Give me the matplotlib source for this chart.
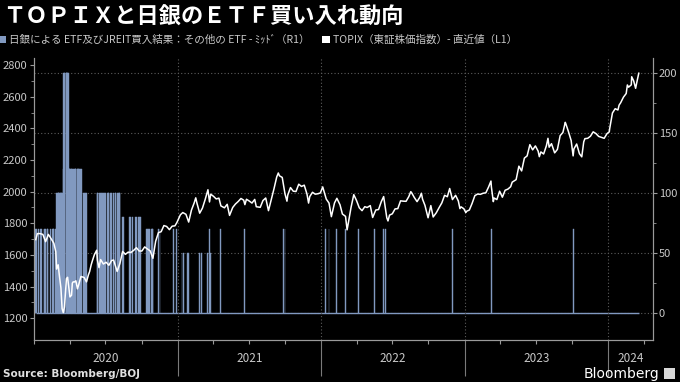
import numpy as np
import pandas as pd
import matplotlib
matplotlib.use('Agg')
import matplotlib.pyplot as plt
import matplotlib.dates as mdates
from matplotlib.patches import Patch, Rectangle
from matplotlib.transforms import blended_transform_factory

plt.rcParams['font.family'] = ['Noto Sans CJK JP', 'DejaVu Sans']

# TOPIX (left axis)
topix_dates = [
    '2020-01-06', '2020-01-10', '2020-01-17', '2020-01-24', '2020-01-31', '2020-02-07', '2020-02-14',
    '2020-02-21', '2020-02-26', '2020-02-28', '2020-03-03', '2020-03-06', '2020-03-10', '2020-03-13',
    '2020-03-16', '2020-03-19', '2020-03-24', '2020-03-27', '2020-03-30', '2020-04-02', '2020-04-06',
    '2020-04-08', '2020-04-10', '2020-04-14', '2020-04-17', '2020-04-21', '2020-04-24', '2020-04-30',
    '2020-05-08', '2020-05-14', '2020-05-19', '2020-05-22', '2020-05-26', '2020-05-29', '2020-06-03',
    '2020-06-09', '2020-06-11', '2020-06-15', '2020-06-19', '2020-06-26', '2020-07-03', '2020-07-10',
    '2020-07-17', '2020-07-22', '2020-07-31', '2020-08-07', '2020-08-14', '2020-08-21', '2020-08-28',
    '2020-09-04', '2020-09-11', '2020-09-18', '2020-09-25', '2020-10-02', '2020-10-09', '2020-10-16',
    '2020-10-23', '2020-10-30', '2020-11-06', '2020-11-13', '2020-11-20', '2020-11-27', '2020-12-04',
    '2020-12-11', '2020-12-18', '2020-12-25', '2020-12-30',
    '2021-01-08', '2021-01-14', '2021-01-22', '2021-01-29', '2021-02-05', '2021-02-12', '2021-02-16',
    '2021-02-19', '2021-02-26', '2021-03-05', '2021-03-12', '2021-03-19', '2021-03-23', '2021-03-26',
    '2021-04-02', '2021-04-09', '2021-04-16', '2021-04-21', '2021-04-30', '2021-05-07', '2021-05-13',
    '2021-05-21', '2021-05-28', '2021-06-04', '2021-06-11', '2021-06-18', '2021-06-21', '2021-06-25',
    '2021-07-02', '2021-07-09', '2021-07-16', '2021-07-20', '2021-07-30', '2021-08-06', '2021-08-13',
    '2021-08-20', '2021-08-27', '2021-09-03', '2021-09-10', '2021-09-14', '2021-09-17', '2021-09-24',
    '2021-10-01', '2021-10-06', '2021-10-08', '2021-10-15', '2021-10-22', '2021-10-29', '2021-11-05',
    '2021-11-12', '2021-11-19', '2021-11-26', '2021-11-30', '2021-12-03', '2021-12-10', '2021-12-17',
    '2021-12-24', '2021-12-30',
    '2022-01-05', '2022-01-14', '2022-01-21', '2022-01-27', '2022-02-04', '2022-02-10', '2022-02-18',
    '2022-02-24', '2022-03-04', '2022-03-08', '2022-03-11', '2022-03-18', '2022-03-25', '2022-04-01',
    '2022-04-08', '2022-04-15', '2022-04-22', '2022-04-28', '2022-05-06', '2022-05-12', '2022-05-20',
    '2022-05-27', '2022-06-03', '2022-06-09', '2022-06-17', '2022-06-20', '2022-06-24', '2022-07-01',
    '2022-07-08', '2022-07-15', '2022-07-22', '2022-07-29', '2022-08-05', '2022-08-12', '2022-08-17',
    '2022-08-19', '2022-08-26', '2022-09-02', '2022-09-09', '2022-09-13', '2022-09-16', '2022-09-22',
    '2022-09-30', '2022-10-07', '2022-10-13', '2022-10-21', '2022-10-28', '2022-11-04', '2022-11-11',
    '2022-11-18', '2022-11-24', '2022-12-01', '2022-12-09', '2022-12-16', '2022-12-20', '2022-12-23',
    '2022-12-30',
    '2023-01-04', '2023-01-06', '2023-01-13', '2023-01-20', '2023-01-27', '2023-02-03', '2023-02-10',
    '2023-02-17', '2023-02-24', '2023-03-03', '2023-03-09', '2023-03-10', '2023-03-15', '2023-03-17',
    '2023-03-24', '2023-03-31', '2023-04-07', '2023-04-14', '2023-04-21', '2023-04-28', '2023-05-02',
    '2023-05-12', '2023-05-19', '2023-05-26', '2023-06-02', '2023-06-09', '2023-06-16', '2023-06-23',
    '2023-06-30', '2023-07-07', '2023-07-10', '2023-07-14', '2023-07-21', '2023-07-28', '2023-08-01',
    '2023-08-04', '2023-08-10', '2023-08-18', '2023-08-25', '2023-09-01', '2023-09-08', '2023-09-14',
    '2023-09-15', '2023-09-22', '2023-09-29', '2023-10-04', '2023-10-06', '2023-10-13', '2023-10-20',
    '2023-10-26', '2023-10-31', '2023-11-03', '2023-11-10', '2023-11-17', '2023-11-24', '2023-12-01',
    '2023-12-08', '2023-12-15', '2023-12-22', '2023-12-29',
    '2024-01-04', '2024-01-05', '2024-01-12', '2024-01-19', '2024-01-26', '2024-01-29', '2024-02-02',
    '2024-02-09', '2024-02-16', '2024-02-19', '2024-02-22', '2024-02-29', '2024-03-01', '2024-03-06',
    '2024-03-11', '2024-03-14', '2024-03-19',
]
topix_vals = [
    1697, 1735, 1735, 1730, 1684, 1730, 1703,
    1674, 1620, 1511, 1538, 1471, 1392, 1261,
    1236, 1271, 1450, 1459, 1399, 1335, 1346,
    1422, 1430, 1430, 1437, 1386, 1410, 1464,
    1458, 1430, 1475, 1495, 1538, 1563, 1601,
    1630, 1565, 1520, 1571, 1543, 1554, 1535,
    1565, 1568, 1496, 1546, 1622, 1604, 1618,
    1616, 1629, 1646, 1625, 1625, 1651, 1638,
    1626, 1579, 1687, 1741, 1747, 1786, 1780,
    1760, 1782, 1784, 1805,
    1854, 1868, 1857, 1808, 1883, 1929, 1961,
    1928, 1864, 1896, 1951, 2012, 1935, 1984,
    1971, 1954, 1959, 1910, 1898, 1920, 1850,
    1900, 1922, 1938, 1957, 1946, 1918, 1952,
    1941, 1928, 1951, 1905, 1901, 1944, 1960,
    1880, 1948, 2018, 2093, 2118, 2100, 2090,
    1986, 1940, 1978, 2026, 2003, 2001, 2047,
    2033, 2041, 1984, 1928, 1969, 1996, 1984,
    1987, 1992,
    2030, 1953, 1928, 1842, 1929, 1958, 1917,
    1859, 1844, 1759, 1800, 1900, 1981, 1944,
    1898, 1880, 1905, 1900, 1912, 1837, 1884,
    1887, 1937, 1969, 1835, 1815, 1852, 1860,
    1891, 1893, 1942, 1940, 1939, 1969, 2000,
    1994, 1963, 1937, 1965, 1990, 1952, 1914,
    1835, 1912, 1840, 1867, 1899, 1929, 1977,
    1968, 2020, 1950, 1977, 1941, 1893, 1904,
    1892,
    1868, 1876, 1884, 1926, 1975, 1985, 1983,
    1990, 1993, 2030, 2067, 2031, 1937, 1960,
    1950, 2003, 1965, 2009, 2016, 2031, 2060,
    2076, 2161, 2131, 2212, 2226, 2297, 2264,
    2289, 2256, 2221, 2251, 2238, 2290, 2337,
    2281, 2303, 2245, 2267, 2354, 2374, 2438,
    2432, 2380, 2323, 2226, 2270, 2301, 2240,
    2220, 2315, 2335, 2337, 2350, 2378, 2367,
    2349, 2343, 2337, 2366,
    2378, 2398, 2497, 2524, 2516, 2547, 2562,
    2597, 2620, 2674, 2660, 2675, 2726, 2700,
    2653, 2690, 2748,
]

# BOJ ETF purchases (right axis)
buy_dates = [
    '2020-01-06', '2020-01-09', '2020-01-14', '2020-01-17', '2020-01-20', '2020-01-27', '2020-01-29',
    '2020-01-31', '2020-02-04', '2020-02-06', '2020-02-13', '2020-02-17', '2020-02-19', '2020-02-21',
    '2020-02-25', '2020-02-27',
    '2020-02-28', '2020-03-02', '2020-03-03', '2020-03-04', '2020-03-05', '2020-03-06', '2020-03-09',
    '2020-03-10', '2020-03-11', '2020-03-12', '2020-03-13',
    '2020-03-16',
    '2020-03-17', '2020-03-18', '2020-03-19', '2020-03-23', '2020-03-24', '2020-03-25', '2020-03-26',
    '2020-03-27', '2020-03-30',
    '2020-03-31', '2020-04-01', '2020-04-02', '2020-04-03', '2020-04-06', '2020-04-07', '2020-04-09',
    '2020-04-10', '2020-04-13', '2020-04-15', '2020-04-16', '2020-04-17', '2020-04-20', '2020-04-22',
    '2020-04-23', '2020-04-24', '2020-04-27', '2020-04-30', '2020-05-01',
    '2020-05-07', '2020-05-08', '2020-05-11', '2020-05-13',
    '2020-06-11', '2020-06-12', '2020-06-15', '2020-06-19', '2020-06-22', '2020-06-24', '2020-06-26',
    '2020-06-29', '2020-07-02', '2020-07-06', '2020-07-09', '2020-07-10', '2020-07-14', '2020-07-17',
    '2020-07-21', '2020-07-27', '2020-07-28', '2020-07-31', '2020-08-03', '2020-08-05', '2020-08-07',
    '2020-08-14', '2020-08-17',
    '2020-09-01', '2020-09-04', '2020-09-08', '2020-09-15', '2020-09-17', '2020-09-18', '2020-09-23',
    '2020-09-25', '2020-09-28',
    '2020-10-13', '2020-10-16', '2020-10-19', '2020-10-22', '2020-10-26', '2020-10-28', '2020-10-30',
    '2020-11-13', '2020-11-17', '2020-12-21', '2020-12-28',
    '2021-01-12', '2021-01-15', '2021-01-25', '2021-01-28', '2021-02-25', '2021-03-03', '2021-03-18',
    '2021-03-22', '2021-03-26', '2021-04-21', '2021-06-21', '2021-09-28', '2021-10-01',
    '2022-01-12', '2022-01-21', '2022-02-10', '2022-03-04', '2022-04-05', '2022-05-16', '2022-06-08',
    '2022-06-14', '2022-12-01', '2023-03-10', '2023-10-05',
]
buy_vals = (
    [70.1] * 16 + [100.2] * 11 + [120.4] + [200.4] * 9 + [120.4] * 19 + [100.2] * 4
    + [100.2] * 21 + [80.2] * 2 + [80.2] * 9 + [70.1] * 7 + [70.1] * 4
    + [50.1] * 4 + [50.1, 50.1, 50.1, 70.1, 50.1] + [70.1] * 4
    + [70.1] * 11
)

years = [2020, 2021, 2022, 2023, 2024]

bg = 'black'
bar_color = '#8199c0'
grid_color = '#5c5c5c'
text_color = '#c8c8c8'
spine_color = '#9a9a9a'

t_dates = pd.to_datetime(topix_dates)
b_dates = pd.to_datetime(buy_dates)
x_start = pd.Timestamp('2020-01-01')
x_end = pd.Timestamp('2024-04-23')

fig = plt.figure(figsize=(6.8, 3.82), dpi=100, facecolor=bg)
ax = fig.add_axes([0.0497, 0.110, 0.9099, 0.738])
ax2 = ax.twinx()
ax.set_zorder(ax2.get_zorder() + 1)
ax.patch.set_visible(False)
ax2.set_facecolor(bg)

# bars on the right axis
ax2.hlines(0, b_dates[0], t_dates[-1], color=bar_color, lw=1.0, zorder=2)
ax2.bar(b_dates, buy_vals, width=2.4, color=bar_color, edgecolor=bar_color,
        linewidth=0.3, zorder=3)
ax2.set_ylim(-22.25, 212.75)
ax2.set_yticks([0, 50, 100, 150, 200])
ax2.set_yticks([25, 75, 125, 175], minor=True)
ax2.grid(axis='y', which='major', ls=(0, (1, 2)), color=grid_color, lw=0.8)

# TOPIX line on the left axis
ax.plot(t_dates, topix_vals, color='white', lw=1.1, zorder=4)
ax.set_ylim(1063, 2844)
ax.set_yticks(range(1200, 2801, 200))
ax.set_yticks(range(1300, 2800, 200), minor=True)
ax.set_xlim(x_start, x_end)

ax.set_xticks([pd.Timestamp(f'{y}-01-01') for y in years[1:]])
ax.xaxis.set_minor_locator(mdates.MonthLocator(bymonth=[1, 4, 7, 10]))
ax.set_xticklabels([])
ax.grid(axis='x', which='major', ls=(0, (1, 2)), color=grid_color, lw=0.8)

ax.tick_params(axis='x', which='major', length=26, width=0.8, color='#7a7a7a')
ax.tick_params(axis='x', which='minor', length=3, width=0.8, color=spine_color)
for a in (ax, ax2):
    a.tick_params(axis='y', which='major', length=3, width=0.8, color=spine_color,
                  labelcolor=text_color, labelsize=8, pad=1.5)
    a.tick_params(axis='y', which='minor', length=2, width=0.6, color=spine_color)
    a.spines['top'].set_visible(False)
    for side in ('left', 'right', 'bottom'):
        a.spines[side].set_color(spine_color)
        a.spines[side].set_linewidth(0.8)

# year labels centred in each visible year span
trans = blended_transform_factory(ax.transData, ax.transAxes)
for y in years:
    lo = max(pd.Timestamp(f'{y}-01-01'), x_start)
    hi = min(pd.Timestamp(f'{y + 1}-01-01'), x_end)
    mid = lo + (hi - lo) / 2
    ax.text(mid, -0.065, str(y), transform=trans, ha='center', va='center',
            color=text_color, fontsize=8.5)

# title
fig.text(0.004, 0.955, 'ＴＯＰＩＸと日銀のＥＴＦ買い入れ動向', color='white',
         fontsize=16, fontweight='bold', ha='left', va='center')

# legend
handles = [Patch(facecolor=bar_color, edgecolor='none'),
           Patch(facecolor='white', edgecolor='none')]
labels = ['日銀による ETF及びJREIT買入結果：その他の ETF - ﾐｯﾄﾞ（R1）',
          'TOPIX（東証株価指数）- 直近値（L1）']
fig.legend(handles, labels, loc='center left', bbox_to_anchor=(-0.002, 0.895),
           ncol=2, frameon=False, fontsize=7.6, labelcolor=text_color,
           handlelength=0.7, handleheight=0.7, handletextpad=0.3,
           columnspacing=1.2, borderaxespad=0, borderpad=0)

# footer
fig.text(0.005, 0.022, 'Source: Bloomberg/BOJ', color='#e0e0e0', fontsize=7.5,
         fontweight='bold', family='DejaVu Sans', ha='left', va='center')
fig.text(0.970, 0.022, 'Bloomberg', color='white', fontsize=10, family='DejaVu Sans',
         ha='right', va='center')
fig.patches.append(Rectangle((0.977, 0.008), 0.016, 0.028, transform=fig.transFigure,
                             facecolor='#d8d8d8', edgecolor='none'))

fig.savefig('out.png', dpi=100, facecolor=bg)
